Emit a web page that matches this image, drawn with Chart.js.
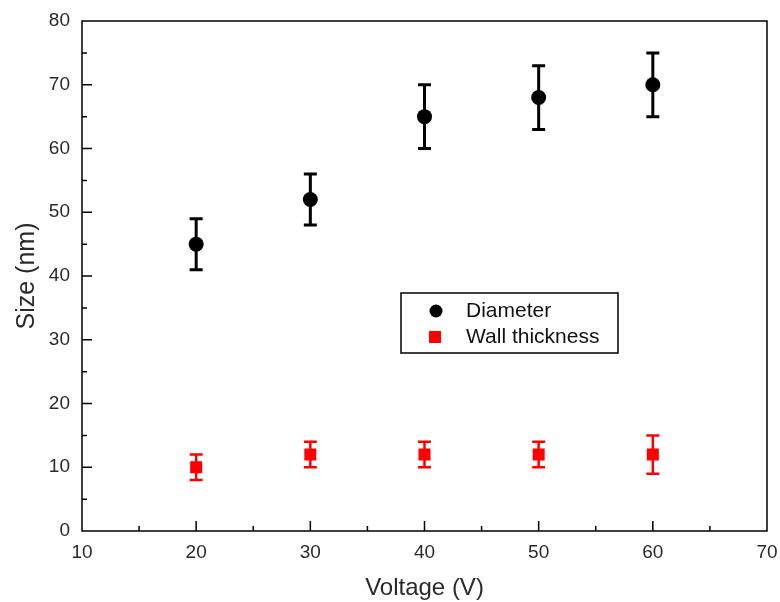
<!DOCTYPE html>
<html>
<head>
<meta charset="utf-8">
<script src="https://cdn.jsdelivr.net/npm/chart.js@4/dist/chart.umd.min.js"></script>
<style>
  body { margin: 0; background: #fff; }
  #wrap { width: 780px; height: 602px; position: relative; }
</style>
</head>
<body>
<div id="wrap"><canvas id="grafico"></canvas></div>
<script>
// valores
var voltage = [20, 30, 40, 50, 60];
var diameter = [45, 52, 65, 68, 70];
var diameterErr = [4, 4, 5, 5, 5];
var wall = [10, 12, 12, 12, 12];
var wallErr = [2, 2, 2, 2, 3];
var seriesLabels = ["Diameter", "Wall thickness"];
var xRange = [10, 70];
var yRange = [0, 80];

function pontos(ys) {
    var out = [];
    for (let i = 0; i < voltage.length; i++) {
        out.push({x: voltage[i], y: ys[i]});
    }
    return out;
}

// barras de erro
var errorBars = {
    id: 'errorBars',
    beforeDatasetsDraw: function(chart) {
        var ctx = chart.ctx;
        var xs = chart.scales.x, ys = chart.scales.y;
        chart.data.datasets.forEach(function(ds) {
            ctx.save();
            ctx.strokeStyle = ds.backgroundColor;
            ctx.lineWidth = ds.errWidth;
            for (let i = 0; i < ds.data.length; i++) {
                var px = xs.getPixelForValue(ds.data[i].x);
                var top = ys.getPixelForValue(ds.data[i].y + ds.err[i]);
                var bot = ys.getPixelForValue(ds.data[i].y - ds.err[i]);
                ctx.beginPath();
                ctx.moveTo(px, top); ctx.lineTo(px, bot);
                ctx.moveTo(px - 6.5, top); ctx.lineTo(px + 6.5, top);
                ctx.moveTo(px - 6.5, bot); ctx.lineTo(px + 6.5, bot);
                ctx.stroke();
            }
            ctx.restore();
        });
    }
};

// moldura, ticks para dentro e legenda
var frame = {
    id: 'frame',
    afterDraw: function(chart) {
        var ctx = chart.ctx;
        var a = chart.chartArea;
        var xs = chart.scales.x, ys = chart.scales.y;
        ctx.save();
        ctx.strokeStyle = '#000';
        ctx.lineWidth = 1.5;
        ctx.strokeRect(a.left, a.top, a.right - a.left, a.bottom - a.top);

        ctx.beginPath();
        for (let v = xs.min + 5; v < xs.max; v += 5) {
            var px = xs.getPixelForValue(v);
            var len = (v % 10 === 0) ? 10 : 5;
            ctx.moveTo(px, a.bottom); ctx.lineTo(px, a.bottom - len);
        }
        for (let v = ys.min + 5; v < ys.max; v += 5) {
            var py = ys.getPixelForValue(v);
            var len2 = (v % 10 === 0) ? 10 : 5;
            ctx.moveTo(a.left, py); ctx.lineTo(a.left + len2, py);
        }
        ctx.stroke();

        // legenda
        var lx = a.left + 319, ly = a.top + 272;
        ctx.lineWidth = 1.5;
        ctx.strokeRect(lx, ly, 217, 60);
        var d0 = chart.data.datasets[0], d1 = chart.data.datasets[1];
        ctx.fillStyle = d0.backgroundColor;
        ctx.beginPath();
        ctx.arc(lx + 35, ly + 18, 6.5, 0, Math.PI * 2);
        ctx.fill();
        ctx.fillStyle = d1.backgroundColor;
        ctx.fillRect(lx + 28, ly + 38, 12, 12);
        ctx.fillStyle = '#111';
        ctx.font = '21px "Liberation Sans", Arial, sans-serif';
        ctx.textBaseline = 'middle';
        ctx.fillText(d0.label, lx + 65, ly + 18);
        ctx.fillText(d1.label, lx + 65, ly + 44);
        ctx.restore();
    }
};

var ctx = document.getElementById('grafico').getContext('2d');

new Chart(ctx, {
    type: 'scatter',
    data: {
        datasets: [{
            label: seriesLabels[0],
            data: pontos(diameter),
            err: diameterErr,
            errWidth: 3,
            backgroundColor: '#000000',
            borderWidth: 0,
            pointStyle: 'circle',
            pointRadius: 7.5,
            pointHoverRadius: 7.5
        }, {
            label: seriesLabels[1],
            data: pontos(wall),
            err: wallErr,
            errWidth: 2.5,
            backgroundColor: '#ff0000',
            borderWidth: 0,
            pointStyle: 'rect',
            pointRadius: 8.5,
            pointHoverRadius: 8.5
        }]
    },
    options: {
        responsive: true,
        maintainAspectRatio: false,
        animation: false,
        layout: {
            padding: {top: 21, right: 13, left: 0, bottom: 0}
        },
        plugins: {
            legend: {display: false},
            tooltip: {enabled: false}
        },
        scales: {
            x: {
                type: 'linear',
                min: xRange[0],
                max: xRange[1],
                afterFit: function(scale) {
                    scale.height = 71;
                    scale.paddingLeft = 0;
                    scale.paddingRight = 0;
                },
                grid: {display: false, drawTicks: false},
                border: {display: false},
                ticks: {
                    stepSize: 10,
                    color: '#2a2a2a',
                    padding: 10,
                    maxRotation: 0,
                    font: {size: 19, family: '"Liberation Sans", Arial, sans-serif'}
                },
                title: {
                    display: true,
                    text: 'Voltage (V)',
                    color: '#2a2a2a',
                    padding: {top: 0, bottom: -1},
                    font: {size: 24, family: '"Liberation Sans", Arial, sans-serif'}
                }
            },
            y: {
                type: 'linear',
                min: yRange[0],
                max: yRange[1],
                afterFit: function(scale) {
                    scale.width = 82;
                    scale.paddingTop = 0;
                    scale.paddingBottom = 0;
                },
                grid: {display: false, drawTicks: false},
                border: {display: false},
                ticks: {
                    stepSize: 10,
                    color: '#2a2a2a',
                    padding: 12,
                    font: {size: 19, family: '"Liberation Sans", Arial, sans-serif'}
                },
                title: {
                    display: true,
                    text: 'Size (nm)',
                    color: '#2a2a2a',
                    padding: {top: 12, bottom: 0},
                    font: {size: 25, family: '"Liberation Sans", Arial, sans-serif'}
                }
            }
        }
    },
    plugins: [errorBars, frame]
});
</script>
</body>
</html>
